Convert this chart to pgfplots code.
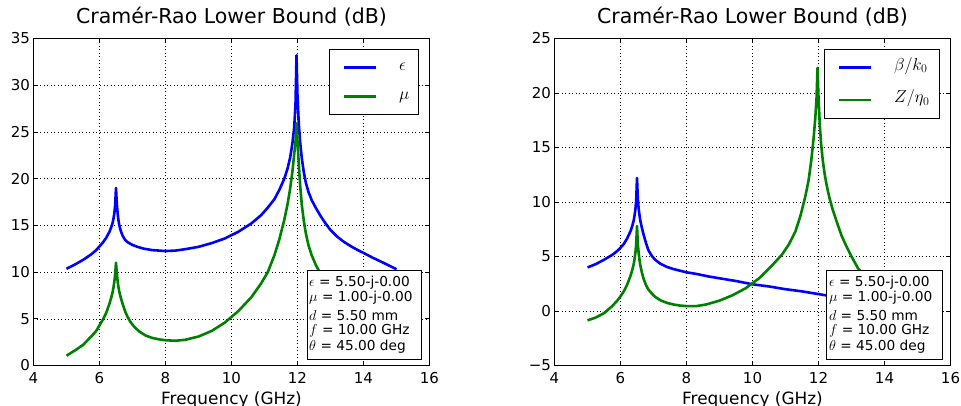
\documentclass[border=0pt]{standalone}
\usepackage{fontspec}
\setmainfont{DejaVu Sans}
\usepackage{pgfplots}
\pgfplotsset{compat=1.18}

\definecolor{mplblue}{rgb}{0,0,1}
\definecolor{mplgreen}{rgb}{0,0.5,0}

\pgfplotsset{
  crb/.style={
    scale only axis, width=396pt, height=327pt,
    xmin=4, xmax=16, xtick={4,6,...,16},
    xticklabels={4,6,8,10,12,14,16},
    grid=major,
    major grid style={black, line width=0.5pt, dash pattern=on 1pt off 2.5pt},
    tick align=inside, major tick length=4.5pt,
    every tick/.style={black, line width=0.8pt},
    axis line style={black, line width=0.9pt},
    tick label style={font=\fontsize{15}{18}\selectfont},
    xticklabel style={anchor=base, yshift=-17.6pt},
    yticklabel style={anchor=east, inner sep=0pt, xshift=-3.3pt},
    title={Cramér-Rao Lower Bound (dB)},
    title style={font=\fontsize{20.5}{24}\selectfont, at={(axis description cs:0.5,1)}, anchor=base, yshift=8.7pt},
    xlabel={Frequency (GHz)},
    xlabel style={font=\fontsize{16.9}{20}\selectfont, at={(axis description cs:0.5,0)}, anchor=base, yshift=-39.5pt},
    legend image code/.code={\path (0pt,0pt); \draw[#1] (4pt,0pt) -- (35.6pt,0pt);},
    legend cell align=left,
    legend style={anchor=north east, draw=black, line width=0.9pt,
      inner xsep=9.5pt, inner ysep=6.5pt, row sep=6pt,
      nodes={inner sep=0pt, text height=14pt, text depth=9pt, font=\fontsize{18.5}{22}\selectfont},
      /tikz/every odd column/.append style={column sep=21.7pt}},
  },
  bl/.style={mplblue, line width=2.6pt, line join=round},
  gr/.style={mplgreen, line width=2.6pt, line join=round},
}
\tikzset{infotext/.style={anchor=base west, inner sep=0pt, font=\fontsize{13.7}{16}\selectfont}}

\begin{document}
\begin{tikzpicture}
\path[use as bounding box] (-33.5pt,-40.5pt) rectangle (927.5pt,365.5pt);

\begin{axis}[crb, at={(0pt,0pt)},
  ymin=0, ymax=35, ytick={0,5,...,35}, yticklabels={0,5,10,15,20,25,30,35},
  legend style={at={(axis description cs:0.974,0.967)}}]
\addplot[bl] coordinates {
(5.0,10.35)(5.25,10.8)(5.5,11.3)(5.75,11.9)(5.9,12.35)(6.0,12.75)(6.1,13.15)(6.2,13.65)
(6.3,14.3)(6.35,14.75)(6.4,15.3)(6.425,15.75)(6.45,16.3)(6.475,17.2)(6.5,19.0)(6.525,17.3)
(6.55,16.3)(6.575,15.55)(6.6,15.0)(6.65,14.35)(6.7,13.9)(6.775,13.45)(6.85,13.2)(7.0,12.9)
(7.15,12.7)(7.35,12.5)(7.6,12.35)(8.0,12.25)(8.3,12.3)(8.6,12.45)(9.0,12.7)(9.4,13.1)
(9.8,13.6)(10.2,14.3)(10.6,15.2)(10.9,16.1)(11.1,16.9)(11.3,17.8)(11.45,18.8)(11.6,20.0)
(11.7,21.1)(11.78,22.3)(11.85,23.9)(11.9,25.5)(11.94,28.0)(11.97,33.2)(12.0,28.8)
(12.04,25.8)(12.08,23.9)(12.13,22.2)(12.19,20.7)(12.25,19.6)(12.33,18.6)(12.43,17.7)
(12.55,16.9)(12.7,16.0)(12.85,15.2)(13.0,14.5)(13.2,13.8)(13.4,13.25)(13.6,12.8)
(13.8,12.4)(14.0,12.05)(14.3,11.5)(14.6,11.0)(15.0,10.3)};
\addlegendentry{$\epsilon$}
\addplot[gr] coordinates {
(5.0,1.05)(5.25,1.6)(5.5,2.2)(5.75,3.1)(5.9,3.7)(6.0,4.3)(6.1,4.9)(6.2,5.6)
(6.3,6.6)(6.35,7.2)(6.4,7.9)(6.425,8.4)(6.45,9.0)(6.475,9.8)(6.5,11.0)(6.525,9.9)
(6.55,9.0)(6.575,8.4)(6.6,7.9)(6.65,7.2)(6.7,6.6)(6.775,5.8)(6.85,5.2)(6.95,4.6)
(7.05,4.15)(7.2,3.65)(7.4,3.2)(7.6,2.95)(7.8,2.8)(8.0,2.7)(8.3,2.65)(8.6,2.75)
(9.0,3.1)(9.4,3.7)(9.8,4.6)(10.2,5.8)(10.6,7.3)(10.9,8.8)(11.1,10.0)(11.3,11.8)
(11.45,13.5)(11.6,15.6)(11.7,17.3)(11.78,19.0)(11.85,20.9)(11.9,22.6)(11.94,24.0)
(11.97,25.9)(12.0,24.0)(12.04,21.5)(12.08,19.3)(12.13,17.2)(12.19,15.5)(12.25,14.2)
(12.33,12.9)(12.43,11.8)(12.55,10.8)(12.7,9.8)(12.85,9.1)(13.0,8.5)(13.3,7.5)
(13.6,6.7)(14.0,5.8)(14.5,4.8)(15.0,4.0)};
\addlegendentry{$\mu$}
\draw[black, line width=0.9pt, fill=white] (axis description cs:0.6907,0.0199) rectangle (axis description cs:0.9785,0.292);
\node[infotext] at (axis description cs:0.6957,0.2431) {$\epsilon$ = 5.50-j-0.00};
\node[infotext] at (axis description cs:0.6957,0.1951) {$\mu$ = 1.00-j-0.00};
\node[infotext] at (axis description cs:0.6957,0.1391) {$d$ = 5.50 mm};
\node[infotext] at (axis description cs:0.6957,0.0963) {$f$ = 10.00 GHz};
\node[infotext] at (axis description cs:0.6957,0.0453) {$\theta$ = 45.00 deg};
\end{axis}

\begin{axis}[crb, at={(521pt,0pt)},
  ymin=-5, ymax=25, ytick={-5,0,...,25}, yticklabels={−5,0,5,10,15,20,25},
  legend style={at={(axis description cs:0.972,0.967)}, row sep=9.4pt}]
\addplot[bl] coordinates {
(5.0,4.0)(5.25,4.3)(5.5,4.7)(5.75,5.15)(5.9,5.5)(6.0,5.8)(6.1,6.15)(6.2,6.65)
(6.3,7.3)(6.35,7.75)(6.4,8.3)(6.425,8.75)(6.45,9.3)(6.475,10.1)(6.5,12.2)(6.525,10.3)
(6.55,9.4)(6.575,8.8)(6.6,8.3)(6.65,7.6)(6.7,7.0)(6.775,6.2)(6.85,5.55)(6.95,5.05)
(7.05,4.7)(7.2,4.35)(7.4,4.05)(7.6,3.85)(8.0,3.55)(8.3,3.4)(8.7,3.15)(9.0,3.0)
(9.5,2.75)(10.0,2.45)(10.5,2.25)(11.0,2.0)(11.5,1.8)(12.0,1.55)(12.5,1.3)(13.0,1.1)
(14.0,0.8)(15.0,0.5)};
\addlegendentry{$\beta/k_0$}
\addplot[gr] coordinates {
(5.0,-0.86)(5.25,-0.6)(5.5,-0.2)(5.75,0.45)(5.9,0.95)(6.0,1.35)(6.1,1.8)(6.2,2.4)
(6.3,3.2)(6.35,3.7)(6.4,4.3)(6.425,4.75)(6.45,5.3)(6.475,6.1)(6.5,7.8)(6.525,6.2)
(6.55,5.3)(6.575,4.7)(6.6,4.2)(6.65,3.5)(6.7,2.95)(6.775,2.35)(6.85,1.95)(6.95,1.6)
(7.05,1.3)(7.2,1.0)(7.4,0.75)(7.6,0.6)(7.8,0.5)(8.0,0.45)(8.3,0.45)(8.6,0.6)
(9.0,0.95)(9.4,1.45)(9.8,2.1)(10.2,3.0)(10.6,4.2)(10.9,5.2)(11.1,6.1)(11.3,7.3)
(11.45,8.7)(11.6,10.5)(11.7,12.0)(11.78,13.8)(11.85,15.8)(11.9,17.6)(11.94,19.5)
(11.97,22.3)(12.0,19.6)(12.04,17.0)(12.08,15.3)(12.13,13.8)(12.19,12.5)(12.25,11.5)
(12.33,10.4)(12.43,9.3)(12.55,8.2)(12.7,6.9)(12.85,5.9)(13.0,5.0)(13.2,3.9)(13.5,3.0)
(14.0,2.0)(14.5,1.2)(15.0,0.6)};
\addlegendentry{$Z/\eta_0$}
\draw[black, line width=0.9pt, fill=white] (axis description cs:0.6869,0.0199) rectangle (axis description cs:0.9798,0.292);
\node[infotext] at (axis description cs:0.6927,0.2431) {$\epsilon$ = 5.50-j-0.00};
\node[infotext] at (axis description cs:0.6927,0.1951) {$\mu$ = 1.00-j-0.00};
\node[infotext] at (axis description cs:0.6927,0.1391) {$d$ = 5.50 mm};
\node[infotext] at (axis description cs:0.6927,0.0963) {$f$ = 10.00 GHz};
\node[infotext] at (axis description cs:0.6927,0.0453) {$\theta$ = 45.00 deg};
\end{axis}
\end{tikzpicture}
\end{document}
